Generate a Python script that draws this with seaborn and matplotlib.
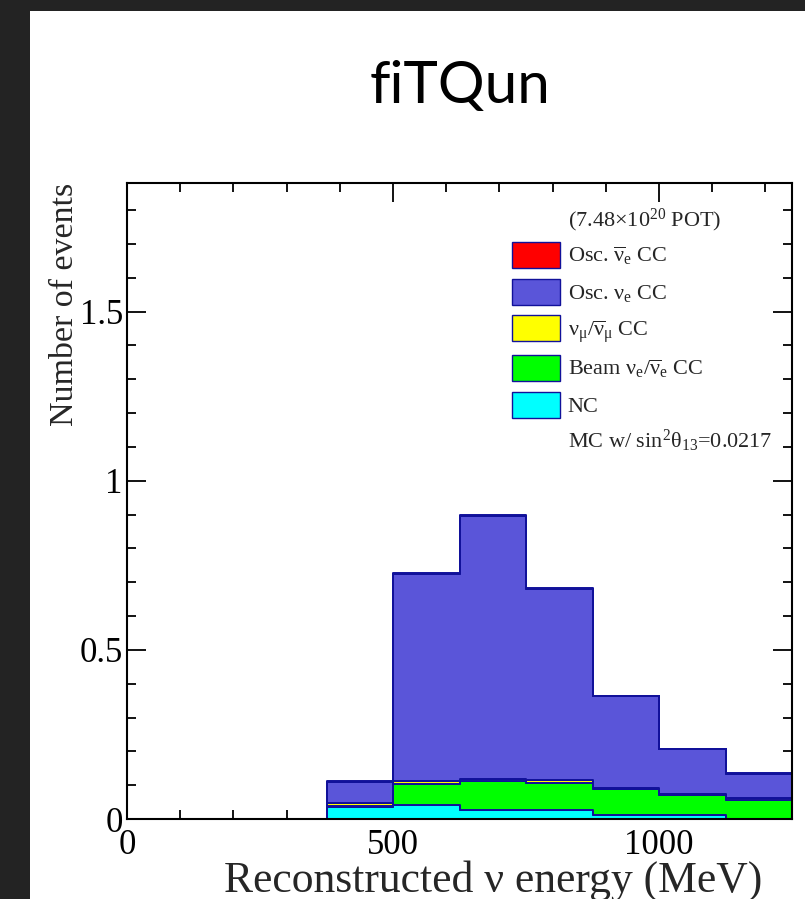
import numpy as np
import pandas as pd
import matplotlib
matplotlib.use("Agg")
import matplotlib.pyplot as plt
import seaborn as sns
from matplotlib.patches import Patch, Rectangle
from matplotlib.legend_handler import HandlerPatch
from matplotlib.ticker import MultipleLocator

# ---------------- data ----------------
bin_edges = [0, 125, 250, 375, 500, 625, 750, 875, 1000, 1125, 1250]
bin_centers = [62.5, 187.5, 312.5, 437.5, 562.5, 687.5, 812.5, 937.5, 1062.5, 1187.5]

comp_names = ["osc_nuebar", "osc_nue", "numu", "beam_nue", "nc"]
comp_labels = [r"Osc. $\overline{\mathrm{\nu}}_\mathrm{e}$ CC",
               r"Osc. $\mathrm{\nu}_\mathrm{e}$ CC",
               r"$\mathrm{\nu}_\mathrm{\mu}/\overline{\mathrm{\nu}}_\mathrm{\mu}$ CC",
               r"Beam $\mathrm{\nu}_\mathrm{e}/\overline{\mathrm{\nu}}_\mathrm{e}$ CC",
               "NC"]
comp_colors = ["#ff0000", "#5a55d9", "#ffff00", "#00ff00", "#00ffff"]

osc_nuebar_cc = [0, 0, 0, 0.001, 0.002, 0.002, 0.002, 0.001, 0.001, 0.001]
osc_nue_cc    = [0, 0, 0, 0.064, 0.614, 0.779, 0.565, 0.272, 0.131, 0.073]
numu_cc       = [0, 0, 0, 0.007, 0.009, 0.004, 0.008, 0.003, 0.003, 0.005]
beam_nue_cc   = [0, 0, 0, 0.005, 0.062, 0.085, 0.080, 0.078, 0.061, 0.055]
nc            = [0, 0, 0, 0.034, 0.040, 0.028, 0.027, 0.011, 0.011, 0.001]

title_text = "fiTQun"
pot_text = r"(7.48$\times$10$^{20}$ POT)"
mc_text = r"MC w/ sin$^{2}\mathrm{\theta}_{13}$=0.0217"
xlabel = "Reconstructed ν energy (MeV)"
ylabel = "Number of events"

series = [osc_nuebar_cc, osc_nue_cc, numu_cc, beam_nue_cc, nc]
df = pd.DataFrame({
    "energy": np.tile(bin_centers, len(comp_names)),
    "events": np.concatenate([np.asarray(s, float) for s in series]),
    "comp": np.repeat(comp_names, len(bin_centers)),
})

# ---------------- style ----------------
sns.set_style("ticks")
plt.rcParams["font.family"] = ["Liberation Serif", "DejaVu Serif"]
plt.rcParams["mathtext.fontset"] = "custom"
plt.rcParams["mathtext.rm"] = "Liberation Serif"
plt.rcParams["mathtext.it"] = "Liberation Serif:italic"
plt.rcParams["mathtext.bf"] = "Liberation Serif:bold"

navy = "#11119a"

fig = plt.figure(figsize=(8.05, 8.99), dpi=100)
fig.patch.set_facecolor("#232323")
fig.patches.append(Rectangle((30 / 805, 0), 1 - 30 / 805, 1 - 11 / 899,
                             transform=fig.transFigure, facecolor="white",
                             edgecolor="none", zorder=-5))

ax = fig.add_axes([127 / 805, 1 - 819 / 899, 665 / 805, 636 / 899])
ax.set_facecolor("white")

sns.histplot(data=df, x="energy", weights="events", hue="comp",
             hue_order=comp_names, palette=dict(zip(comp_names, comp_colors)),
             bins=bin_edges, multiple="stack", element="step", fill=True,
             alpha=1, edgecolor=navy, linewidth=1.4, legend=False, ax=ax)

ax.set_xlim(0, 1250)
ax.set_ylim(0, 1.88)

ax.xaxis.set_major_locator(MultipleLocator(500))
ax.xaxis.set_minor_locator(MultipleLocator(100))
ax.yaxis.set_major_locator(MultipleLocator(0.5))
ax.yaxis.set_minor_locator(MultipleLocator(0.1))
ax.yaxis.set_major_formatter(matplotlib.ticker.FuncFormatter(lambda v, p: f"{v:g}"))

ax.tick_params(which="both", direction="in", top=True, right=True,
               colors="black", width=1.3, labelsize=25)
ax.tick_params(which="major", length=14)
ax.tick_params(which="minor", length=6.5)
ax.tick_params(axis="x", pad=7)
ax.tick_params(axis="y", pad=3)
for s in ax.spines.values():
    s.set_visible(True)
    s.set_linewidth(1.5)
    s.set_color("black")
    s.set_zorder(5)

ax.set_xlabel(xlabel, fontsize=31.4, loc="right")
ax.xaxis.set_label_coords(0.956, -0.064)
ax.set_ylabel(ylabel, fontsize=24.5, loc="top")
ax.yaxis.set_label_coords(-0.071, 1.0)


def fixed_box(legend, orig_handle, xdescent, ydescent, width, height, fontsize):
    h = 1.17 * fontsize
    return Rectangle((-xdescent, -ydescent + (height - h) / 2), width, h)


handles = [Patch(facecolor=c, edgecolor=navy, linewidth=1.0) for c in comp_colors]
leg = ax.legend(handles, comp_labels, loc="upper left",
                bbox_to_anchor=(0.579, 0.908), frameon=False, fontsize=16,
                handlelength=2.15, handleheight=1.5, labelspacing=0.43,
                handletextpad=0.36, borderpad=0, borderaxespad=0,
                handler_map={Patch: HandlerPatch(patch_func=fixed_box)})

ax.text(0.663, 0.942, pot_text, transform=ax.transAxes, fontsize=16,
        ha="left", va="center")
ax.text(0.663, 0.594, mc_text, transform=ax.transAxes, fontsize=16,
        ha="left", va="center")

fig.text(0.571, 1 - 103 / 899, title_text, family=["Lato", "DejaVu Sans"],
         fontsize=42, ha="center", va="baseline", color="black")

fig.savefig("out.png", dpi=100, facecolor=fig.get_facecolor())
